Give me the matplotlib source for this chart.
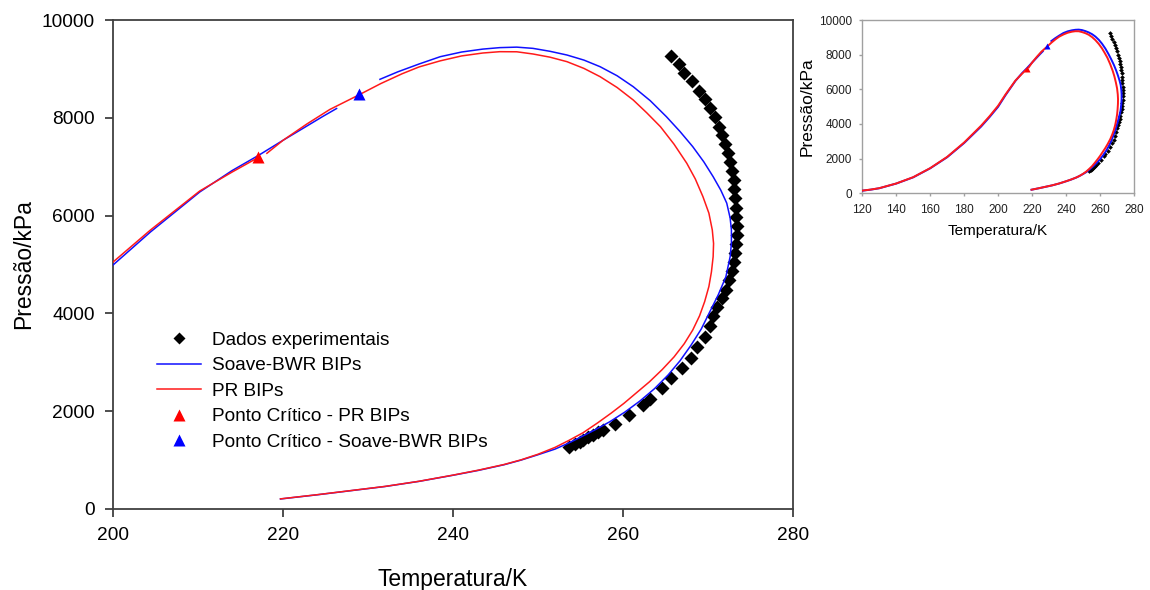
import matplotlib.pyplot as plt
from matplotlib.lines import Line2D

plt.rcParams['font.family'] = ['Liberation Sans', 'DejaVu Sans']

# dados experimentais (T em K, P em kPa)
exp_t = [265.7, 266.6, 267.2, 268.1, 268.9, 269.6, 270.2, 270.8, 271.3, 271.6,
         272.0, 272.3, 272.6, 272.8, 273.0, 273.1, 273.2, 273.3, 273.3, 273.4,
         273.4, 273.3, 273.2, 273.0, 272.8, 272.5, 272.1, 271.6, 271.1, 270.6,
         270.2, 269.6, 268.7, 268.0, 266.9, 265.7, 264.6, 263.2, 262.4, 260.7,
         259.0, 257.7, 257.1, 256.5, 255.9, 255.3, 254.9, 254.4, 253.6]
exp_p = [9263, 9100, 8922, 8752, 8554, 8377, 8193, 8009, 7818, 7648,
         7464, 7286, 7102, 6918, 6727, 6536, 6352, 6162, 5978, 5787,
         5603, 5412, 5228, 5043, 4873, 4682, 4478, 4307, 4137, 3946,
         3742, 3523, 3319, 3080, 2876, 2671, 2467, 2242, 2126, 1921,
         1737, 1615, 1567, 1512, 1465, 1410, 1369, 1328, 1274]

# Soave-BWR BIPs, dois trechos
soave_t1 = [120, 125, 130, 140, 150, 160, 170, 180, 190, 195, 200, 204.4,
            210.2, 214, 217.1, 220.0, 222.5, 224.7, 226.3]
soave_p1 = [150, 210, 290, 560, 920, 1440, 2080, 2900, 3850, 4400, 4990, 5665,
            6483, 6920, 7230, 7540, 7800, 8030, 8190]
soave_t2 = [231.4, 233.5, 236.0, 238.5, 241.0, 243.5, 245.5, 247.5, 249.4, 251.4,
            253.4, 255.4, 257.3, 259.3, 261.2, 263.2, 265.1, 266.7, 268.2, 269.5,
            270.6, 271.5, 272.2, 272.6, 272.75, 272.75, 272.6, 272.1, 271.2, 270.2,
            269.2, 268.0, 266.7, 265.3, 263.7, 262.0, 260.2, 258.4, 256.6, 254.9,
            253.5, 252.0, 250.0, 248.0, 246.0, 243.0, 240.0, 236.0, 232.0, 228.0,
            224.0, 219.7]
soave_p2 = [8787, 8940, 9100, 9250, 9345, 9405, 9435, 9445, 9420, 9360,
            9284, 9180, 9045, 8860, 8636, 8350, 8023, 7720, 7410, 7100,
            6796, 6520, 6255, 5950, 5706, 5430, 5160, 4750, 4380, 4030,
            3680, 3350, 3030, 2740, 2460, 2210, 1980, 1780, 1610, 1460,
            1340, 1225, 1110, 1000, 905, 790, 690, 565, 460, 375,
            290, 205]

# PR BIPs, dois trechos
pr_t1 = [120, 125, 130, 140, 150, 160, 170, 180, 190, 195, 200, 204.4,
         210.2, 214, 217.1]
pr_p1 = [155, 215, 295, 565, 930, 1450, 2100, 2930, 3900, 4450, 5050, 5705,
         6503, 6890, 7190]
pr_t2 = [218.1, 220.0, 222.8, 225.5, 228.9, 231.5, 234.0, 236.0, 238.5, 241.0,
         243.5, 245.5, 247.5, 249.4, 251.4, 253.4, 255.4, 257.3, 259.3, 261.2,
         262.8, 264.4, 266.0, 267.5, 268.5, 269.4, 270.1, 270.5, 270.65, 270.6,
         270.4, 270.1, 269.6, 269.0, 268.2, 267.2, 266.0, 264.6, 263.1, 261.6,
         260.1, 258.6, 257.0, 255.3, 253.6, 252.0, 250.0, 248.0, 246.0, 243.0,
         240.0, 236.0, 232.0, 228.0, 224.0, 219.7]
pr_p2 = [7274, 7540, 7873, 8170, 8466, 8700, 8900, 9040, 9165, 9265,
         9325, 9352, 9350, 9305, 9240, 9148, 9010, 8841, 8620, 8364,
         8100, 7818, 7460, 7070, 6750, 6387, 6050, 5706, 5430, 5160,
         4850, 4550, 4240, 3950, 3660, 3380, 3110, 2850, 2600, 2380,
         2160, 1960, 1760, 1560, 1400, 1260, 1120, 1005, 910, 795,
         693, 567, 462, 377, 292, 207]

# pontos criticos
crit_pr = (217.1, 7190)
crit_soave = (228.9, 8480)

labels = ['Dados experimentais', 'Soave-BWR BIPs', 'PR BIPs',
          'Ponto Crítico - PR BIPs', 'Ponto Crítico - Soave-BWR BIPs']

BLUE = '#1010ff'
RED = '#ff1a1a'
FRAME = '#404040'


def draw(ax, lw, ms_exp, ms_tri):
    ax.plot(exp_t, exp_p, 'D', color='black', ms=ms_exp, mec='none', zorder=2)
    ax.plot(soave_t1, soave_p1, color=BLUE, lw=lw, zorder=3)
    ax.plot(soave_t2, soave_p2, color=BLUE, lw=lw, zorder=3)
    ax.plot(pr_t1, pr_p1, color=RED, lw=lw, zorder=3)
    ax.plot(pr_t2, pr_p2, color=RED, lw=lw, zorder=3)
    ax.plot(*crit_pr, '^', color='red', ms=ms_tri, mec='none', zorder=4)
    ax.plot(*crit_soave, '^', color='blue', ms=ms_tri, mec='none', zorder=4)


fig = plt.figure(figsize=(11.5, 5.9), dpi=100)

# grafico principal
ax = fig.add_axes([0.0983, 0.1373, 0.5913, 0.8288])
draw(ax, 1.1, 7, 8)
ax.set_xlim(200, 280)
ax.set_ylim(0, 10000)
ax.set_xticks([200, 220, 240, 260, 280])
ax.set_yticks([0, 2000, 4000, 6000, 8000, 10000])
for s in ax.spines.values():
    s.set_color(FRAME)
    s.set_linewidth(1.3)
ax.tick_params(direction='out', length=6, width=1.3, color=FRAME,
               labelsize=13.8, pad=7)
ax.set_xlabel('Temperatura/K', fontsize=16.5, labelpad=17)
ax.set_ylabel('Pressão/kPa', fontsize=16.5, labelpad=5)

handles = [
    Line2D([], [], ls='none', marker='D', color='black', ms=6, mec='none'),
    Line2D([], [], color=BLUE, lw=1.1),
    Line2D([], [], color=RED, lw=1.1),
    Line2D([], [], ls='none', marker='^', color='red', ms=8, mec='none'),
    Line2D([], [], ls='none', marker='^', color='blue', ms=8, mec='none'),
]
ax.legend(handles, labels, loc='upper left', bbox_to_anchor=(0.065, 0.363),
          frameon=False, fontsize=13.7, handlelength=2.3, handletextpad=0.6,
          labelspacing=0.43, borderpad=0, borderaxespad=0)

# grafico menor
ins = fig.add_axes([0.7498, 0.6724, 0.2362, 0.2937])
draw(ins, 1.4, 2.4, 5)
ins.set_xlim(120, 280)
ins.set_ylim(0, 10000)
ins.set_xticks(range(120, 281, 20))
ins.set_yticks(range(0, 10001, 2000))
for s in ins.spines.values():
    s.set_color('#a0a0a0')
    s.set_linewidth(1.0)
ins.tick_params(direction='out', length=2.5, width=1.0, color='#a0a0a0',
                labelsize=8.5, pad=5, labelcolor='#202020')
ins.set_xlabel('Temperatura/K', fontsize=11, labelpad=6)
ins.set_ylabel('Pressão/kPa', fontsize=12.5, labelpad=3)

fig.savefig('out.png', dpi=100)
